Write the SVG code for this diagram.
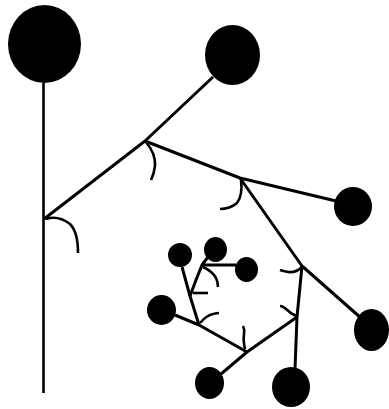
<svg xmlns="http://www.w3.org/2000/svg" width="389" height="409" viewBox="0 0 389 409">
<style>
.e{fill:none;stroke:#000;stroke-width:3;stroke-linejoin:round;stroke-linecap:butt}
.a{fill:none;stroke:#000;stroke-width:2.6;stroke-linecap:butt}
.n{fill:#000}
</style>
<rect width="389" height="409" fill="#fff"/>
<g id="connectors">
<path class="e" d="M43.5 83 L43.5 393" style="stroke-width:2.6"/>
<path class="e" d="M44 219 L145 141 L213 77"/>
<path class="e" d="M145 141 L240 178 L336 201"/>
<path class="e" d="M240 178 L302 266 L361 318"/>
<path class="e" d="M302 266 L297 317 L295 369"/>
<path class="e" d="M297 317 L247 352 L221 374"/>
<path class="e" d="M247 352 L199 325 L175 315"/>
<path class="e" d="M199 325 L190 296 L182 267"/>
<path class="e" d="M190 296 L196 280 L202 265 L208 257"/>
<path class="e" d="M202 265 L236 265"/>
<path class="a" d="M46 219 Q58 215 70 224 Q78 232 78 253"/>
<path class="a" d="M146 142 Q156 154 155 166 Q154 174 151 180"/>
<path class="a" d="M241 180 Q243 195 237 203 Q230 209 220 209"/>
<path class="a" d="M302 267 Q296 273 288 272 Q283 271 280 270"/>
<path class="a" d="M296 316 Q290 313 286 309 Q283 306 280 306"/>
<path class="a" d="M245 349 Q243 340 244 334 Q245 330 243 326"/>
<path class="a" d="M200 323 Q207 315 213 314 Q218 313 219 313"/>
<path class="a" d="M193 293 L208 293"/>
<path class="a" d="M203 267 Q212 271 216 278 Q218 282 218 287"/>
</g>
<g id="n1"><ellipse class="n" cx="44.5" cy="44" rx="36.5" ry="39"/></g>
<g id="n2"><ellipse class="n" cx="232.5" cy="55" rx="27.5" ry="30"/></g>
<g id="n3"><ellipse class="n" cx="353" cy="206.5" rx="19" ry="19.5"/></g>
<g id="n4"><ellipse class="n" cx="371.5" cy="330" rx="17.5" ry="21"/></g>
<g id="n5"><ellipse class="n" cx="291" cy="387" rx="19" ry="20"/></g>
<g id="n6"><ellipse class="n" cx="209.5" cy="383" rx="14.5" ry="16"/></g>
<g id="n7"><ellipse class="n" cx="161.5" cy="310" rx="14.5" ry="15"/></g>
<g id="n8"><ellipse class="n" cx="180" cy="255" rx="12" ry="12"/></g>
<g id="n9"><ellipse class="n" cx="215.5" cy="249.5" rx="11.5" ry="12.5"/></g>
<g id="n10"><ellipse class="n" cx="246.5" cy="269.5" rx="11.5" ry="12.5"/></g>
</svg>
